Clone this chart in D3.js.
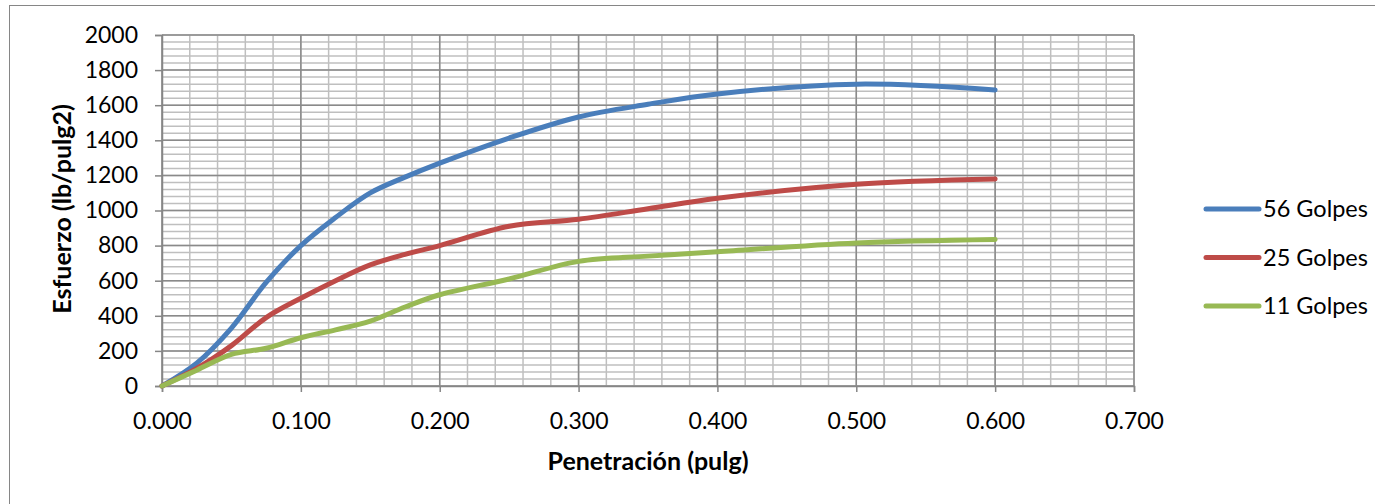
<!DOCTYPE html>
<html><head><meta charset="utf-8">
<script src="https://cdn.jsdelivr.net/npm/d3@7"></script>
<style>body{margin:0;background:#fff}svg{display:block}text{font-family:Lato,"Open Sans",sans-serif}</style>
</head><body><svg id="c" width="1375" height="504"></svg>
<script>
const penetration = [0, 0.025, 0.05, 0.075, 0.1, 0.125, 0.15, 0.175, 0.2, 0.25, 0.3, 0.35, 0.4, 0.5, 0.6];
const golpes56 = [0, 130, 330, 590, 800, 960, 1100, 1190, 1270, 1413, 1533, 1605, 1664, 1720, 1687];
const golpes25 = [0, 100, 230, 390, 500, 600, 690, 750, 800, 910, 950, 1010, 1070, 1150, 1180];
const golpes11 = [0, 90, 180, 215, 275, 320, 370, 450, 520, 610, 710, 740, 765, 815, 835];
const seriesNames = ["56 Golpes", "25 Golpes", "11 Golpes"];
const seriesColors = ["#4a7ebb", "#be4b48", "#98b954"];
const xTicks = [0, 0.1, 0.2, 0.3, 0.4, 0.5, 0.6, 0.7];
const yTicks = [0, 200, 400, 600, 800, 1000, 1200, 1400, 1600, 1800, 2000];

const svg = d3.select("#c");
const L = 162, R = 1134, T = 35, B = 386;
const x = d3.scaleLinear().domain([0, 0.7]).range([L, R]);
const y = d3.scaleLinear().domain([0, 2000]).range([B, T]);

svg.append("rect").attr("x", 9.5).attr("y", 5.5).attr("width", 1400).attr("height", 520)
  .attr("fill", "#fff").attr("stroke", "#868686").attr("stroke-width", 1);

const g = svg.append("g");
const xMinor = d3.range(0, 0.7001, 0.02);
const yMinor = d3.range(0, 2000.1, 40);
g.selectAll(".xm").data(xMinor).join("line")
  .attr("x1", d => x(d)).attr("x2", d => x(d)).attr("y1", T).attr("y2", B)
  .attr("stroke", "#bfbfbf").attr("stroke-width", 1.5);
g.selectAll(".ym").data(yMinor).join("line")
  .attr("y1", d => y(d)).attr("y2", d => y(d)).attr("x1", L).attr("x2", R)
  .attr("stroke", "#bfbfbf").attr("stroke-width", 1.5);
g.selectAll(".xM").data(xTicks).join("line")
  .attr("x1", d => x(d)).attr("x2", d => x(d)).attr("y1", T).attr("y2", B)
  .attr("stroke", "#8a8a8a").attr("stroke-width", 1.5);
g.selectAll(".yM").data(yTicks).join("line")
  .attr("y1", d => y(d)).attr("y2", d => y(d)).attr("x1", L).attr("x2", R)
  .attr("stroke", "#8a8a8a").attr("stroke-width", 1.5);

const xAxis = svg.append("g").attr("transform", `translate(0,${B})`)
  .call(d3.axisBottom(x).tickValues(xTicks).tickFormat(d3.format(".3f")).tickSize(6).tickPadding(21));
const yAxis = svg.append("g").attr("transform", `translate(${L},0)`)
  .call(d3.axisLeft(y).tickValues(yTicks).tickFormat(d3.format("d")).tickSize(7).tickPadding(17));
[xAxis, yAxis].forEach(a => {
  a.selectAll("path").attr("stroke", "#868686").attr("stroke-width", 1.5);
  a.selectAll("line").attr("stroke", "#868686").attr("stroke-width", 1.5);
  a.selectAll("text").attr("font-size", 23).attr("fill", "#000").style("font-family", "Lato");
});
xAxis.selectAll("text").attr("dy", "0.71em");

const all = [golpes56, golpes25, golpes11];
const line = d3.line().x((d, i) => x(penetration[i])).y(d => y(d)).curve(d3.curveCatmullRom.alpha(0.5));
all.forEach((s, k) => {
  svg.append("path").datum(s).attr("d", line).attr("fill", "none")
    .attr("stroke", seriesColors[k]).attr("stroke-width", 5).attr("stroke-linecap", "round");
});

svg.append("text").attr("x", 648).attr("y", 470).attr("text-anchor", "middle")
  .attr("font-size", 25).attr("font-weight", "bold").text("Penetración (pulg)");
svg.append("text").attr("transform", "translate(71,209) rotate(-90)").attr("text-anchor", "middle")
  .attr("font-size", 25).attr("font-weight", "bold").text("Esfuerzo (lb/pulg2)");

const leg = svg.append("g");
seriesNames.forEach((n, k) => {
  const yy = 209 + k * 48.5;
  leg.append("line").attr("x1", 1206).attr("x2", 1259).attr("y1", yy).attr("y2", yy)
    .attr("stroke", seriesColors[k]).attr("stroke-width", 5).attr("stroke-linecap", "round");
  leg.append("text").attr("x", 1263).attr("y", yy).attr("dy", "0.35em")
    .attr("font-size", 23.5).text(n);
});
</script></body></html>
